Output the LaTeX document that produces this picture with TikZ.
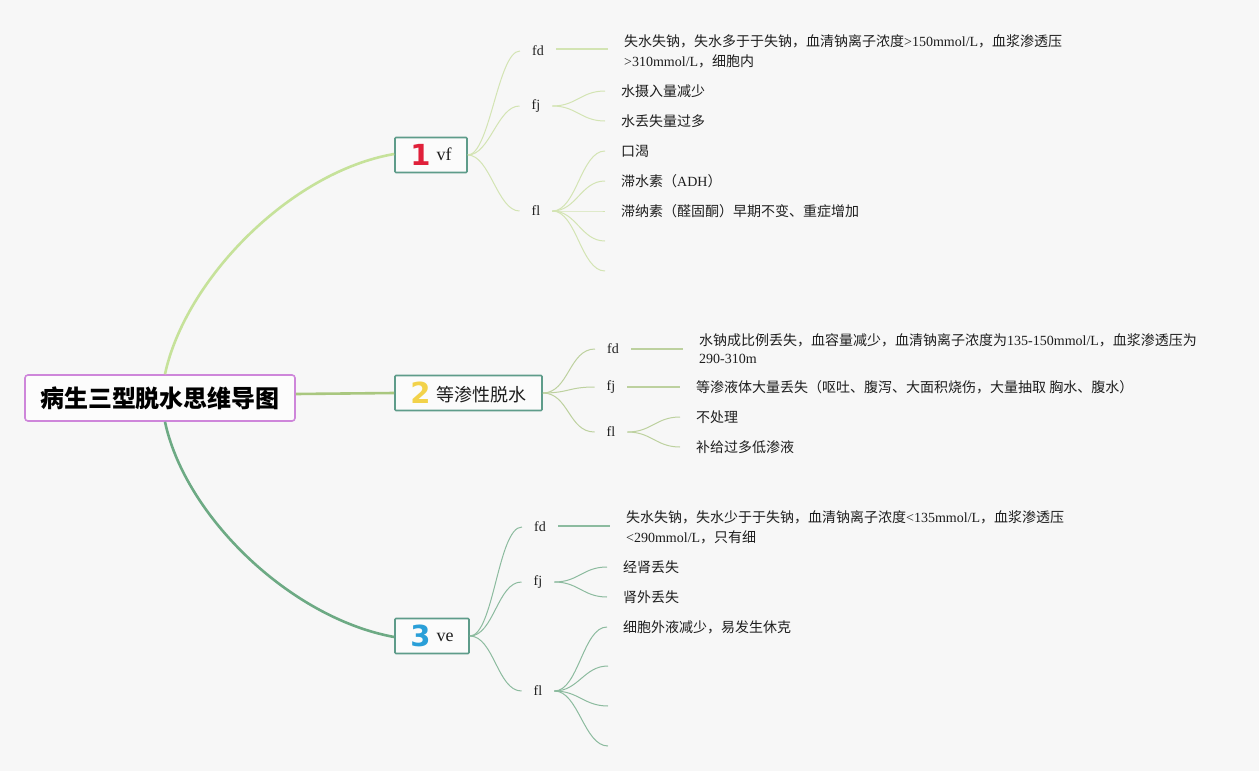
\documentclass[tikz,border=0pt]{standalone}
\usepackage{fontspec}
\setmainfont{Liberation Serif}
\newfontfamily\cjk{Noto Sans CJK SC}
\newfontfamily\numf{DejaVu Sans}
\newcommand\zh[1]{{\cjk #1}}
\definecolor{bgc}{HTML}{F7F7F7}
\definecolor{rootc}{HTML}{CE86DA}
\definecolor{topc}{HTML}{5E9C8A}
\definecolor{bA}{HTML}{C6E29A}
\definecolor{bAt}{HTML}{D3E4B3}
\definecolor{bB}{HTML}{A9C77F}
\definecolor{bBt}{HTML}{BDD19F}
\definecolor{bC}{HTML}{6DAA84}
\definecolor{bCt}{HTML}{8CBB9F}
\definecolor{numA}{HTML}{E0203A}
\definecolor{numB}{HTML}{F2D24A}
\definecolor{numC}{HTML}{2A9FD8}
\definecolor{txt}{HTML}{1E1E1E}
\newcommand\bignum[2]{{\color{#1}\numf\bfseries\fontsize{29}{29}\selectfont #2}}
\begin{document}
\begin{tikzpicture}[x=1pt,y=-1pt,
  rootbox/.style={draw=rootc, line width=1.6pt, fill=white!60!bgc, rounded corners=3pt,
    minimum width=270pt, minimum height=46pt, inner sep=0pt, text=black,
    font=\fontsize{24}{28}\selectfont},
  topicbox/.style={draw=topc, line width=1.6pt, fill=white!50!bgc, rounded corners=1pt,
    minimum height=35pt, inner sep=0pt, text=txt, font=\fontsize{18}{22}\selectfont},
  lab/.style={inner xsep=12pt, inner ysep=2pt, text=txt, font=\fontsize{14}{16}\selectfont},
  leaf/.style={anchor=west, inner xsep=16pt, inner ysep=1pt, align=left, text=txt,
    font=\fontsize{14}{20}\selectfont},
  thickA/.style={draw=bA, line width=2.6pt},
  thickB/.style={draw=bB, line width=2.6pt},
  thickC/.style={draw=bC, line width=2.6pt},
  thinA/.style={draw=bAt, line width=1pt},
  thinB/.style={draw=bBt, line width=1pt},
  thinC/.style={draw=bCt, line width=1pt},
  stubA/.style={draw=bAt, line width=1.8pt},
  stubB/.style={draw=bBt, line width=1.8pt},
  stubC/.style={draw=bCt, line width=1.8pt}
]
\fill[bgc] (0,0) rectangle (1259,771);
\useasboundingbox (0,0) rectangle (1259,771);

% root and topics
\node[rootbox] (root) at (160,398) {\zh{\bfseries 病生三型脱水思维导图}};
\node[topicbox, minimum width=72pt] (n1) at (431,155)
  {\bignum{numA}{1}\hspace{6pt}\raisebox{5pt}{vf}};
\node[topicbox, minimum width=147pt] (n2) at (468.5,393)
  {\bignum{numB}{2}\hspace{6pt}\raisebox{2pt}{\zh{等渗性脱水}}};
\node[topicbox, minimum width=74pt] (n3) at (432,636)
  {\bignum{numC}{3}\hspace{6pt}\raisebox{5pt}{ve}};

\draw[thickA] ([xshift=5pt]root.north) .. controls (185,280) and (290,172) .. ([yshift=1pt]n1.west);
\draw[thickB] ([yshift=4pt]root.east) -- (n2.west);
\draw[thickC] ([xshift=5pt]root.south) .. controls (185,516) and (290,618) .. ([yshift=-1pt]n3.west);

% ---------- branch 1 ----------
\node[lab] (a1) at (538,51) {fd};
\node[lab] (a2) at (536,106) {fj};
\node[lab] (a3) at (536,211) {fl};
\draw[thinA] (n1.east) .. controls +(22,0) and +(-22,0) .. (a1.west);
\draw[thinA] (n1.east) .. controls +(22,0) and +(-22,0) .. (a2.west);
\draw[thinA] (n1.east) .. controls +(22,0) and +(-22,0) .. (a3.west);

\node[leaf] (a1x) at (608,51) {\zh{失水失钠，失水多于于失钠，血清钠离子浓度}>150mmol/L\zh{，血浆渗透压}\\>310mmol/L\zh{，细胞内}};
\draw[stubA] ([yshift=2pt]a1.east) -- ([yshift=2pt]a1x.west);

\node[leaf] (a2x) at (605,91) {\zh{水摄入量减少}};
\node[leaf] (a2y) at (605,121) {\zh{水丢失量过多}};
\draw[thinA] (a2.east) .. controls +(24,0) and +(-24,0) .. (a2x.west);
\draw[thinA] (a2.east) .. controls +(24,0) and +(-24,0) .. (a2y.west);

\node[leaf] (a3a) at (605,151) {\zh{口渴}};
\node[leaf] (a3b) at (605,181) {\zh{滞水素（}ADH\zh{）}};
\node[leaf] (a3c) at (605,211) {\zh{滞纳素（醛固酮）早期不变、重症增加}};
\coordinate (a3d) at (605,241);
\coordinate (a3e) at (605,271);
\foreach \t in {a3a,a3b,a3c}
  \draw[thinA] (a3.east) .. controls +(24,0) and +(-24,0) .. (\t.west);
\foreach \t in {a3d,a3e}
  \draw[thinA] (a3.east) .. controls +(24,0) and +(-24,0) .. (\t);

% ---------- branch 2 ----------
\node[lab] (b1) at (613,349) {fd};
\node[lab] (b2) at (611,387) {fj};
\node[lab] (b3) at (611,432) {fl};
\draw[thinB] (n2.east) .. controls +(26,0) and +(-26,0) .. (b1.west);
\draw[thinB] (n2.east) .. controls +(26,0) and +(-26,0) .. (b2.west);
\draw[thinB] (n2.east) .. controls +(26,0) and +(-26,0) .. (b3.west);

\node[leaf, font=\fontsize{14}{18}\selectfont] (b1x) at (683,349) {\zh{水钠成比例丢失，血容量减少，血清钠离子浓度为}135-150mmol/L\zh{，血浆渗透压为}\\290-310m};
\draw[stubB] (b1.east) -- (b1x.west);
\node[leaf] (b2x) at (680,387) {\zh{等渗液体大量丢失（呕吐、腹泻、大面积烧伤，大量抽取 胸水、腹水）}};
\draw[stubB] (b2.east) -- (b2x.west);
\node[leaf] (b3x) at (680,417) {\zh{不处理}};
\node[leaf] (b3y) at (680,447) {\zh{补给过多低渗液}};
\draw[thinB] (b3.east) .. controls +(24,0) and +(-24,0) .. (b3x.west);
\draw[thinB] (b3.east) .. controls +(24,0) and +(-24,0) .. (b3y.west);

% ---------- branch 3 ----------
\node[lab] (c1) at (540,527) {fd};
\node[lab] (c2) at (538,582) {fj};
\node[lab] (c3) at (538,691) {fl};
\draw[thinC] (n3.east) .. controls +(24,0) and +(-24,0) .. (c1.west);
\draw[thinC] (n3.east) .. controls +(24,0) and +(-24,0) .. (c2.west);
\draw[thinC] (n3.east) .. controls +(24,0) and +(-24,0) .. (c3.west);

\node[leaf] (c1x) at (610,527) {\zh{失水失钠，失水少于于失钠，血清钠离子浓度}<135mmol/L\zh{，血浆渗透压}\\<290mmol/L\zh{，只有细}};
\draw[stubC] ([yshift=1pt]c1.east) -- ([yshift=1pt]c1x.west);
\node[leaf] (c2x) at (607,567) {\zh{经肾丢失}};
\node[leaf] (c2y) at (607,597) {\zh{肾外丢失}};
\draw[thinC] (c2.east) .. controls +(24,0) and +(-24,0) .. (c2x.west);
\draw[thinC] (c2.east) .. controls +(24,0) and +(-24,0) .. (c2y.west);

\node[leaf] (c3a) at (607,627) {\zh{细胞外液减少，易发生休克}};
\coordinate (c3b) at (608,666);
\coordinate (c3c) at (608,706);
\coordinate (c3d) at (608,746);
\draw[thinC] (c3.east) .. controls +(24,0) and +(-24,0) .. (c3a.west);
\foreach \t in {c3b,c3c,c3d}
  \draw[thinC] (c3.east) .. controls +(24,0) and +(-24,0) .. (\t);
\end{tikzpicture}
\end{document}
